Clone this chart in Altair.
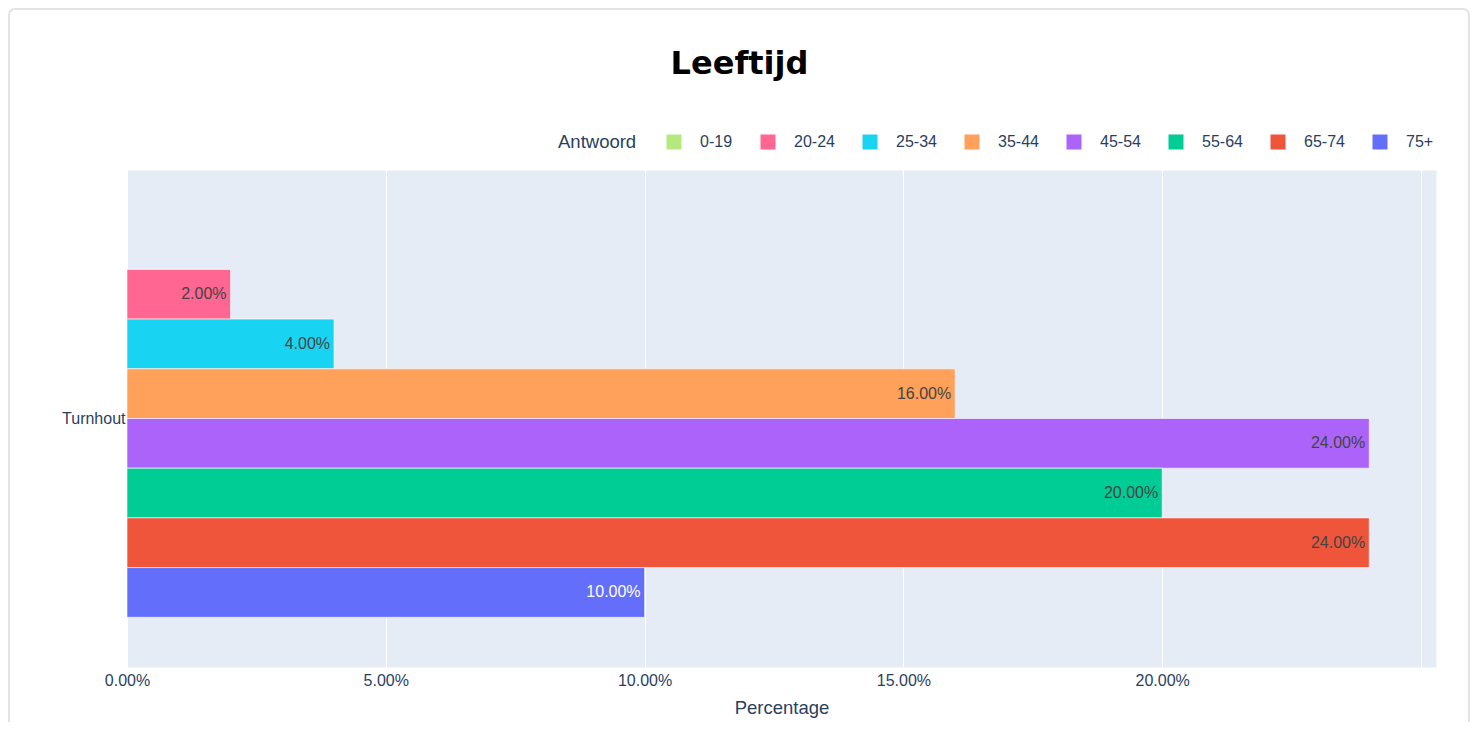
import altair as alt
import pandas as pd

# ---- data ----
categories = ['0-19', '20-24', '25-34', '35-44', '45-54', '55-64', '65-74', '75+']
values = [0.0, 0.02, 0.04, 0.16, 0.24, 0.20, 0.24, 0.10]
colors = ['#B6E880', '#FF6692', '#19D3F3', '#FFA15A', '#AB63FA', '#00CC96', '#EF553B', '#636EFA']
location = 'Turnhout'
tick_values = [0.0, 0.05, 0.10, 0.15, 0.20, 0.25]
chart_title = 'Leeftijd'

df = pd.DataFrame({
    'Locatie': [location] * len(categories),
    'Antwoord': categories,
    'Percentage': values,
})

FONT = 'Liberation Sans'
TXT = '#2a3f5f'

W, H = 1309, 497
PAD_L, PAD_T, PAD_R, PAD_B = 119, 162, 35, 55

x_enc = alt.X(
    'Percentage:Q',
    scale=alt.Scale(domain=[0, 0.2529], nice=False, zero=True),
    axis=alt.Axis(
        title='Percentage', values=tick_values,
        labelExpr="datum.value > 0.24 ? '' : format(datum.value, '.2%')",
        grid=True, gridColor='white', gridWidth=1,
        domain=False, ticks=False, labelFlush=False,
        labelFont=FONT, labelFontSize=16, labelColor=TXT, labelPadding=5,
        titleFont=FONT, titleFontSize=18.5, titleFontWeight='normal', titleColor=TXT,
        titlePadding=10,
    ),
)
y_enc = alt.Y(
    'Locatie:N',
    scale=alt.Scale(paddingInner=0.2, paddingOuter=0.1),
    axis=alt.Axis(title=None, domain=False, ticks=False, grid=False,
                  labelFont=FONT, labelFontSize=16, labelColor=TXT, labelPadding=2),
)
yoff_enc = alt.YOffset('Antwoord:N', sort=categories,
                       scale=alt.Scale(paddingInner=0, paddingOuter=0))

bars = alt.Chart(df).mark_bar(stroke='white', strokeWidth=0.6).encode(
    x=x_enc, y=y_enc, yOffset=yoff_enc,
    color=alt.Color(
        'Antwoord:N', sort=categories,
        scale=alt.Scale(domain=categories, range=colors),
        legend=alt.Legend(
            title='Antwoord', orient='none', legendX=431, legendY=-36,
            direction='horizontal', columns=8, gridAlign='none',
            titleOrient='left', titleFont=FONT, titleFontSize=18.5,
            titleFontWeight='normal', titleColor=TXT, titlePadding=29,
            titleBaseline='middle',
            labelFont=FONT, labelFontSize=16, labelColor=TXT, labelOffset=18,
            symbolType='square', symbolSize=225, symbolStrokeWidth=0,
            symbolOpacity=1, columnPadding=27,
        ),
    ),
)

labels = alt.Chart(df).transform_filter('datum.Percentage > 0').mark_text(
    align='right', baseline='middle', dx=-4, font=FONT, fontSize=16,
).encode(
    x=x_enc, y=y_enc, yOffset=yoff_enc,
    text=alt.Text('Percentage:Q', format='.2%'),
    color=alt.condition("datum.Antwoord == '75+'", alt.value('white'), alt.value('#444444')),
)

title = alt.Chart(pd.DataFrame({'t': [chart_title]})).mark_text(
    font='DejaVu Sans', fontSize=32, fontWeight='bold', color='black',
    align='center', baseline='alphabetic',
).encode(text='t:N', x=alt.value(612.5), y=alt.value(-96))

border = alt.Chart(pd.DataFrame({'k': [0]})).mark_rect(
    fill='transparent', stroke='#e3e3e3', strokeWidth=2, cornerRadius=6,
).encode(
    x=alt.value(-PAD_L + 1), x2=alt.value(W + PAD_R - 2),
    y=alt.value(-PAD_T + 1), y2=alt.value(H + PAD_B + 20),
)

chart = alt.layer(bars, labels, title, border).properties(
    width=W, height=H,
    autosize=alt.AutoSizeParams(type='none'),
    padding={'left': PAD_L, 'top': PAD_T, 'right': PAD_R, 'bottom': PAD_B},
    background='white',
).configure_view(fill='#E5ECF6', stroke='transparent')

chart.save('out.html', embed_options={'renderer': 'svg', 'actions': False})
